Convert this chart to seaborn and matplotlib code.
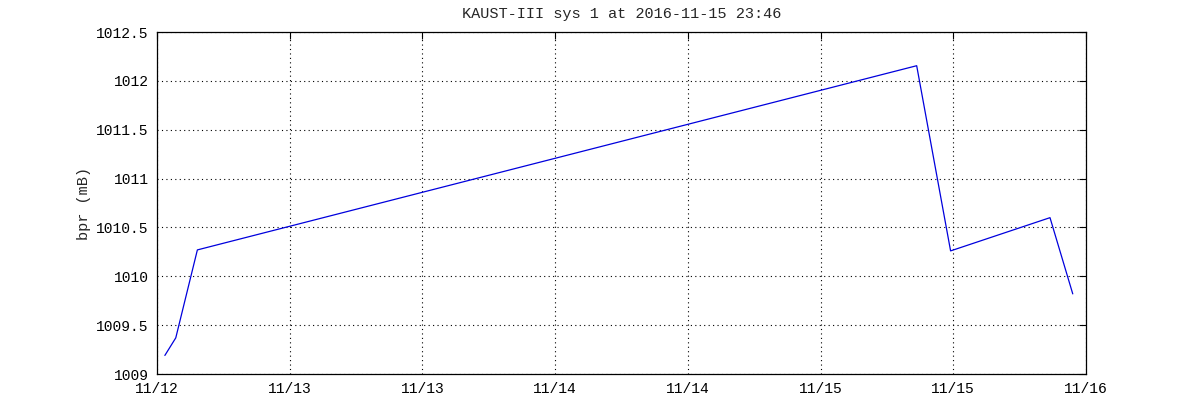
import matplotlib
matplotlib.use('Agg')

import matplotlib.pyplot as plt
import seaborn as sns
import pandas as pd
from matplotlib.ticker import FuncFormatter

# ── Data (days since 2016-11-12 00:00, pressure in mB) ──────────────────────
days = [0.034, 0.081, 0.174, 3.271, 3.417, 3.845, 3.943]
bpr = [1009.19, 1009.37, 1010.27, 1012.155, 1010.26, 1010.60, 1009.82]

tick_pos = [0, 4 / 7, 8 / 7, 12 / 7, 16 / 7, 20 / 7, 24 / 7, 4]
tick_labels = ['11/12', '11/13', '11/13', '11/14', '11/14', '11/15', '11/15', '11/16']
y_ticks = [1009, 1009.5, 1010, 1010.5, 1011, 1011.5, 1012, 1012.5]

df = pd.DataFrame({'days': days, 'bpr': bpr})

sns.set_style('white')
plt.rcParams['font.family'] = ['Liberation Mono', 'DejaVu Sans Mono']
plt.rcParams['font.size'] = 10.5

fig = plt.figure(figsize=(12, 4.2), dpi=100)
ax = fig.add_axes([0.1308, 0.1095, 0.7742, 0.8143])

sns.lineplot(
    data=df,
    x='days',
    y='bpr',
    color='#0000dd',
    linewidth=0.9,
    ax=ax
)

ax.set_xlim(0, 4)
ax.set_ylim(1009, 1012.5)
ax.set_xticks(tick_pos)
ax.set_xticklabels(tick_labels)
ax.set_yticks(y_ticks)
ax.yaxis.set_major_formatter(FuncFormatter(lambda v, p: f'{v:g}'))

ax.grid(True, linestyle=(0, (1, 3)), color='black', linewidth=0.8)
ax.tick_params(direction='in', length=5, color='black', labelcolor='black',
               top=True, right=True, pad=6)
for s in ax.spines.values():
    s.set_color('black')
    s.set_linewidth(0.9)

ax.set_xlabel('')
ax.set_ylabel('bpr (mB)', fontsize=11)
ax.set_title('KAUST-III sys 1 at 2016-11-15 23:46', fontsize=11, pad=10)

plt.savefig('out.png', dpi=100)
plt.close()
